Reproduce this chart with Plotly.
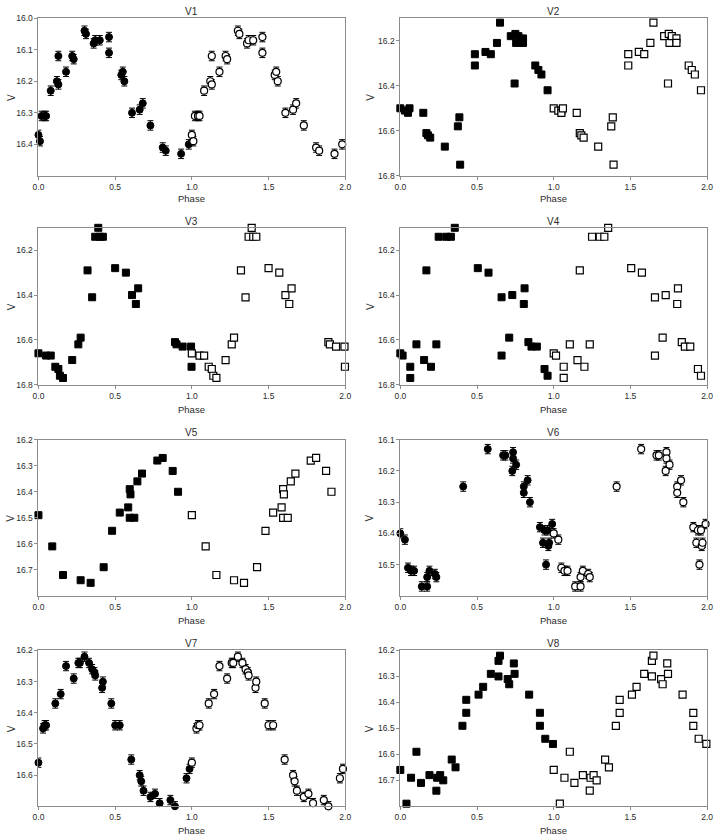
import plotly.graph_objects as go

# ---------------- data (phase in [0,1), V magnitude) ----------------
v1_phase = [0.00, 0.01, 0.02, 0.04, 0.05, 0.08, 0.12, 0.13, 0.13, 0.18, 0.22, 0.23,
            0.30, 0.31, 0.36, 0.37, 0.40, 0.46, 0.46, 0.54, 0.55, 0.56, 0.61, 0.66,
            0.68, 0.73, 0.81, 0.83, 0.93, 0.98]
v1_mag = [16.37, 16.39, 16.31, 16.31, 16.31, 16.23, 16.20, 16.21, 16.12, 16.17, 16.12, 16.13,
          16.04, 16.05, 16.08, 16.07, 16.07, 16.06, 16.11, 16.18, 16.17, 16.20, 16.30, 16.29,
          16.27, 16.34, 16.41, 16.42, 16.43, 16.40]

v2_phase = [0.00, 0.03, 0.05, 0.05, 0.06, 0.15, 0.17, 0.18, 0.195, 0.29, 0.375, 0.385,
            0.39, 0.486, 0.486, 0.555, 0.59, 0.63, 0.65, 0.72, 0.75, 0.755, 0.745, 0.77,
            0.80, 0.80, 0.88, 0.90, 0.92, 0.96]
v2_mag = [16.50, 16.51, 16.51, 16.52, 16.50, 16.52, 16.61, 16.62, 16.63, 16.67, 16.58, 16.54,
          16.75, 16.26, 16.31, 16.25, 16.26, 16.21, 16.12, 16.18, 16.17, 16.21, 16.39, 16.18,
          16.19, 16.21, 16.31, 16.33, 16.35, 16.42]

v3_phase = [0.00, 0.05, 0.08, 0.11, 0.13, 0.14, 0.16, 0.22, 0.26, 0.275, 0.32, 0.35,
            0.37, 0.39, 0.40, 0.42, 0.50, 0.57, 0.61, 0.635, 0.65, 0.89, 0.90, 0.94,
            0.995, 0.998]
v3_mag = [16.66, 16.67, 16.67, 16.72, 16.73, 16.76, 16.77, 16.69, 16.62, 16.59, 16.29, 16.41,
          16.14, 16.10, 16.14, 16.14, 16.28, 16.30, 16.40, 16.44, 16.37, 16.61, 16.62, 16.63,
          16.63, 16.72]

v4_phase = [0.00, 0.015, 0.065, 0.065, 0.105, 0.155, 0.17, 0.20, 0.235, 0.25, 0.30, 0.33,
            0.355, 0.505, 0.575, 0.66, 0.66, 0.71, 0.73, 0.805, 0.81, 0.835, 0.855, 0.89,
            0.94, 0.96]
v4_mag = [16.66, 16.67, 16.72, 16.77, 16.62, 16.69, 16.29, 16.72, 16.62, 16.14, 16.14, 16.14,
          16.10, 16.28, 16.30, 16.41, 16.67, 16.59, 16.40, 16.44, 16.37, 16.61, 16.63, 16.63,
          16.73, 16.76]

v5_phase = [0.00, 0.09, 0.16, 0.275, 0.34, 0.425, 0.48, 0.53, 0.585, 0.595, 0.60, 0.595,
            0.625, 0.645, 0.675, 0.775, 0.81, 0.875, 0.91]
v5_mag = [16.49, 16.61, 16.72, 16.74, 16.75, 16.69, 16.55, 16.48, 16.46, 16.39, 16.41, 16.50,
          16.50, 16.36, 16.33, 16.28, 16.27, 16.32, 16.40]

v6_phase = [0.00, 0.03, 0.05, 0.07, 0.09, 0.14, 0.175, 0.175, 0.19, 0.225, 0.235, 0.41,
            0.57, 0.67, 0.685, 0.735, 0.735, 0.73, 0.755, 0.805, 0.805, 0.83, 0.845, 0.91,
            0.93, 0.94, 0.96, 0.95, 0.965, 0.97, 0.99]
v6_mag = [16.40, 16.42, 16.51, 16.52, 16.52, 16.57, 16.57, 16.54, 16.52, 16.53, 16.54, 16.25,
          16.13, 16.15, 16.15, 16.14, 16.16, 16.20, 16.18, 16.25, 16.27, 16.23, 16.30, 16.38,
          16.43, 16.39, 16.39, 16.50, 16.44, 16.43, 16.37]

v7_phase = [0.00, 0.03, 0.04, 0.05, 0.11, 0.145, 0.18, 0.23, 0.26, 0.27, 0.30, 0.33,
            0.35, 0.365, 0.37, 0.415, 0.42, 0.475, 0.50, 0.53, 0.605, 0.66, 0.67, 0.685,
            0.73, 0.76, 0.79, 0.86, 0.89, 0.965, 0.985]
v7_mag = [16.56, 16.45, 16.44, 16.44, 16.37, 16.34, 16.25, 16.29, 16.24, 16.24, 16.22, 16.24,
          16.26, 16.27, 16.28, 16.32, 16.30, 16.37, 16.44, 16.44, 16.55, 16.60, 16.62, 16.65,
          16.67, 16.66, 16.69, 16.68, 16.70, 16.61, 16.58]

v8_phase = [0.00, 0.04, 0.07, 0.105, 0.135, 0.19, 0.235, 0.24, 0.26, 0.28, 0.335, 0.36,
            0.405, 0.43, 0.43, 0.51, 0.54, 0.59, 0.64, 0.64, 0.65, 0.70, 0.71, 0.74,
            0.745, 0.84, 0.91, 0.91, 0.945, 0.995]
v8_mag = [16.66, 16.79, 16.69, 16.59, 16.71, 16.68, 16.74, 16.69, 16.68, 16.70, 16.62, 16.65,
          16.49, 16.44, 16.39, 16.37, 16.34, 16.29, 16.30, 16.24, 16.22, 16.31, 16.33, 16.25,
          16.29, 16.37, 16.44, 16.49, 16.54, 16.56]

# photometric error bars (shown for the circle-marker stars)
v1_err = 0.015
v6_err = 0.015
v7_err = 0.015

names = ["V1", "V2", "V3", "V4", "V5", "V6", "V7", "V8"]
phase_ticks = [0.0, 0.5, 1.0, 1.5, 2.0]
phase_ticklabels = ["0.0", "0.5", "1.0", "1.5", "2.0"]

v1_yticks = [16.0, 16.1, 16.2, 16.3, 16.4]
v2_yticks = [16.2, 16.4, 16.6, 16.8]
v3_yticks = [16.2, 16.4, 16.6, 16.8]
v4_yticks = [16.2, 16.4, 16.6, 16.8]
v5_yticks = [16.2, 16.3, 16.4, 16.5, 16.6, 16.7]
v6_yticks = [16.1, 16.2, 16.3, 16.4, 16.5]
v7_yticks = [16.2, 16.3, 16.4, 16.5, 16.6]
v8_yticks = [16.2, 16.3, 16.4, 16.5, 16.6, 16.7]

v1_yrange = [16.5, 16.0]
v2_yrange = [16.8, 16.1]
v3_yrange = [16.8, 16.1]
v4_yrange = [16.8, 16.1]
v5_yrange = [16.8, 16.2]
v6_yrange = [16.6, 16.1]
v7_yrange = [16.7, 16.2]
v8_yrange = [16.8, 16.2]

# ---------------- layout geometry (pixels) ----------------
W, H = 720, 835
col_x = [(33, 345), (401, 713)]
row_y = [(13.3, 173), (225.5, 384.3), (440, 598), (653.3, 811)]
title_y = [7, 219, 433, 646]
phase_y = [196, 409, 623, 836]
vlabel_x = [5, 370]

panels = [
    (v1_phase, v1_mag, v1_err, "circle", v1_yticks, v1_yrange),
    (v2_phase, v2_mag, None, "square", v2_yticks, v2_yrange),
    (v3_phase, v3_mag, None, "square", v3_yticks, v3_yrange),
    (v4_phase, v4_mag, None, "square", v4_yticks, v4_yrange),
    (v5_phase, v5_mag, None, "square", v5_yticks, v5_yrange),
    (v6_phase, v6_mag, v6_err, "circle", v6_yticks, v6_yrange),
    (v7_phase, v7_mag, v7_err, "circle", v7_yticks, v7_yrange),
    (v8_phase, v8_mag, None, "square", v8_yticks, v8_yrange),
]

FONT = "Liberation Sans"
TXT = "#2a2a2a"
LINE = "#8c8c8c"

fig = go.Figure()
layout = {}
annotations = []

for i, (ph, mag, err, sym, yt, yr) in enumerate(panels):
    r, c = divmod(i, 2)
    k = "" if i == 0 else str(i + 1)
    xa, ya = "x" + k, "y" + k
    x0, x1 = col_x[c]
    yt0, yb0 = row_y[r]
    xdom = [x0 / W, x1 / W]
    ydom = [1 - yb0 / H, 1 - yt0 / H]

    ebar = None
    if err is not None:
        ebar = dict(type="constant", value=err, width=3, thickness=1, color="black")

    fig.add_trace(go.Scatter(
        x=ph, y=mag, mode="markers", xaxis=xa, yaxis=ya, cliponaxis=False,
        marker=dict(symbol=sym, size=7, color="black", line=dict(color="black", width=1)),
        error_y=ebar, showlegend=False, hoverinfo="skip"))
    fig.add_trace(go.Scatter(
        x=[p + 1 for p in ph], y=mag, mode="markers", xaxis=xa, yaxis=ya, cliponaxis=False,
        marker=dict(symbol=sym, size=7, color="white", line=dict(color="black", width=1.2)),
        error_y=ebar, showlegend=False, hoverinfo="skip"))

    common = dict(showline=True, mirror=True, linecolor=LINE, linewidth=1,
                  ticks="outside", ticklen=3, tickcolor=LINE, showgrid=False,
                  zeroline=False, tickfont=dict(family=FONT, size=8.5, color=TXT))
    layout["xaxis" + k] = dict(domain=xdom, range=[0, 2], anchor=ya,
                               tickvals=phase_ticks, ticktext=phase_ticklabels, **common)
    layout["yaxis" + k] = dict(domain=ydom, range=yr, anchor=xa,
                               tickvals=yt, tickformat=".1f", **common)

    xc = (x0 + x1) / 2 / W
    annotations.append(dict(text=names[i], x=xc, y=1 - title_y[r] / H, xref="paper", yref="paper",
                            showarrow=False, xanchor="center", yanchor="middle",
                            font=dict(family=FONT, size=10, color=TXT)))
    annotations.append(dict(text="Phase", x=xc, y=1 - phase_y[r] / H, xref="paper", yref="paper",
                            showarrow=False, xanchor="center", yanchor="middle",
                            font=dict(family=FONT, size=9.5, color=TXT)))
    annotations.append(dict(text="V", x=vlabel_x[c] / W, y=1 - (yt0 + yb0) / 2 / H,
                            xref="paper", yref="paper", showarrow=False, textangle=-90,
                            xanchor="center", yanchor="middle",
                            font=dict(family=FONT, size=10, color=TXT)))

fig.update_layout(width=W, height=H, margin=dict(l=0, r=0, t=0, b=0),
                  paper_bgcolor="white", plot_bgcolor="white",
                  annotations=annotations, **layout)

fig.write_html("out.html")
